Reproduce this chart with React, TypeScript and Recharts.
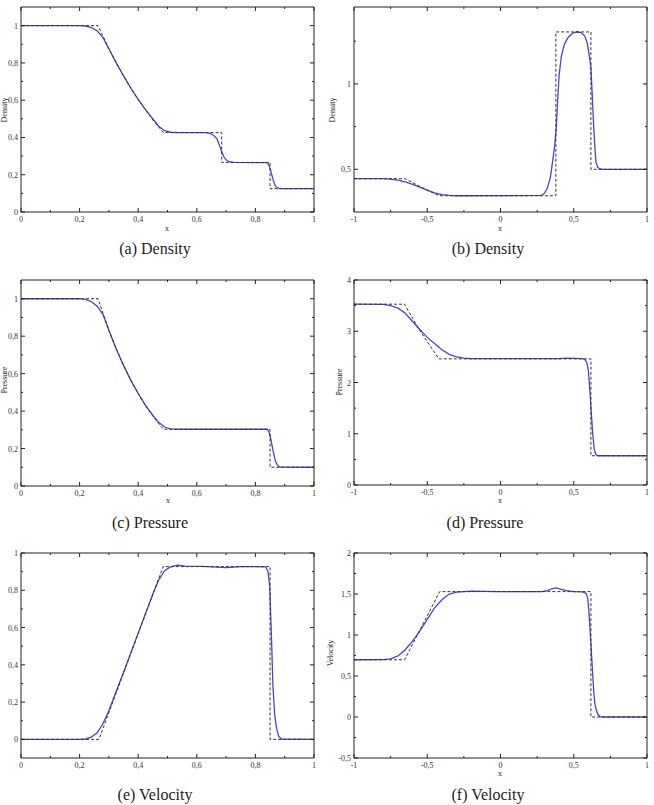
import React from "react";
import { LineChart, Line, XAxis, YAxis } from "recharts";

type Pt = [number, number];

// Sod tube, x in [0, 1]
const SOD_X_MAJOR = [0, 0.2, 0.4, 0.6, 0.8, 1];
const SOD_X_MINOR = [0.1, 0.3, 0.5, 0.7, 0.9];

const SOD_RHO_EXACT: Pt[] = [
  [0, 1], [0.263, 1], [0.28, 0.943], [0.3, 0.878], [0.325, 0.801], [0.35, 0.73], [0.375, 0.664],
  [0.4, 0.603], [0.425, 0.547], [0.45, 0.494], [0.47, 0.456], [0.486, 0.426], [0.685, 0.426],
  [0.685, 0.266], [0.85, 0.266], [0.85, 0.125], [1, 0.125],
];
const SOD_RHO_NUM: Pt[] = [
  [0, 1], [0.2, 1], [0.22, 0.998], [0.24, 0.99], [0.26, 0.972], [0.28, 0.935], [0.3, 0.875],
  [0.325, 0.8], [0.35, 0.73], [0.375, 0.664], [0.4, 0.604], [0.425, 0.549], [0.45, 0.5],
  [0.47, 0.46], [0.49, 0.436], [0.51, 0.428], [0.54, 0.426], [0.63, 0.426], [0.645, 0.422],
  [0.656, 0.413], [0.668, 0.395], [0.677, 0.36], [0.685, 0.323], [0.693, 0.295], [0.7, 0.28],
  [0.71, 0.27], [0.725, 0.266], [0.84, 0.265], [0.845, 0.255], [0.852, 0.225], [0.86, 0.175],
  [0.868, 0.14], [0.877, 0.128], [0.89, 0.125], [1, 0.125],
];

const SOD_P_EXACT: Pt[] = [
  [0, 1], [0.263, 1], [0.28, 0.921], [0.3, 0.833], [0.325, 0.733], [0.35, 0.644], [0.375, 0.564],
  [0.4, 0.493], [0.425, 0.429], [0.45, 0.373], [0.47, 0.333], [0.486, 0.303], [0.85, 0.303],
  [0.85, 0.1], [1, 0.1],
];
const SOD_P_NUM: Pt[] = [
  [0, 1], [0.2, 1], [0.22, 0.997], [0.24, 0.985], [0.26, 0.96], [0.28, 0.915], [0.3, 0.83],
  [0.325, 0.732], [0.35, 0.644], [0.375, 0.564], [0.4, 0.494], [0.425, 0.431], [0.45, 0.377],
  [0.47, 0.34], [0.49, 0.315], [0.51, 0.305], [0.54, 0.303], [0.84, 0.303], [0.846, 0.29],
  [0.852, 0.255], [0.86, 0.19], [0.868, 0.135], [0.876, 0.108], [0.885, 0.101], [1, 0.1],
];

const SOD_U_EXACT: Pt[] = [[0, 0], [0.266, 0], [0.485, 0.927], [0.85, 0.927], [0.85, 0], [1, 0]];
const SOD_U_NUM: Pt[] = [
  [0, 0], [0.2, 0], [0.22, 0.002], [0.24, 0.012], [0.26, 0.035], [0.28, 0.085], [0.3, 0.155],
  [0.35, 0.36], [0.4, 0.57], [0.45, 0.78], [0.47, 0.855], [0.49, 0.905], [0.51, 0.925],
  [0.535, 0.935], [0.56, 0.93], [0.62, 0.928], [0.7, 0.922], [0.75, 0.927], [0.835, 0.926],
  [0.843, 0.9], [0.849, 0.82], [0.855, 0.54], [0.86, 0.28], [0.866, 0.13], [0.872, 0.06],
  [0.88, 0.015], [0.89, 0.002], [1, 0],
];

// Lax tube, x in [-1, 1]
const LAX_X_MAJOR = [-1, -0.5, 0, 0.5, 1];
const LAX_X_MINOR = [-0.75, -0.25, 0.25, 0.75];

const LAX_RHO_EXACT: Pt[] = [
  [-1, 0.445], [-0.65, 0.445], [-0.6, 0.422], [-0.55, 0.399], [-0.5, 0.378], [-0.45, 0.357],
  [-0.42, 0.345], [0.378, 0.345], [0.378, 1.304], [0.617, 1.304], [0.617, 0.5], [1, 0.5],
];
const LAX_RHO_NUM: Pt[] = [
  [-1, 0.445], [-0.8, 0.445], [-0.75, 0.443], [-0.7, 0.437], [-0.65, 0.427], [-0.6, 0.412],
  [-0.55, 0.395], [-0.5, 0.378], [-0.45, 0.362], [-0.4, 0.352], [-0.35, 0.347], [-0.3, 0.345],
  [0.28, 0.347], [0.3, 0.36], [0.32, 0.39], [0.34, 0.45], [0.355, 0.54], [0.37, 0.64],
  [0.38, 0.74], [0.39, 0.9], [0.4, 1.05], [0.415, 1.16], [0.435, 1.23], [0.46, 1.27],
  [0.49, 1.295], [0.52, 1.305], [0.55, 1.3], [0.575, 1.28], [0.592, 1.24], [0.605, 1.17],
  [0.617, 1.1], [0.627, 0.92], [0.636, 0.75], [0.645, 0.62], [0.652, 0.54], [0.665, 0.51],
  [0.68, 0.502], [0.7, 0.5], [1, 0.5],
];

const LAX_P_EXACT: Pt[] = [
  [-1, 3.528], [-0.655, 3.528], [-0.6, 3.251], [-0.54, 2.97], [-0.48, 2.711], [-0.42, 2.461],
  [0.617, 2.461], [0.617, 0.571], [1, 0.571],
];
const LAX_P_NUM: Pt[] = [
  [-1, 3.528], [-0.8, 3.525], [-0.75, 3.5], [-0.7, 3.45], [-0.65, 3.35], [-0.6, 3.19],
  [-0.55, 3.03], [-0.5, 2.88], [-0.45, 2.76], [-0.4, 2.64], [-0.35, 2.55], [-0.3, 2.5],
  [-0.25, 2.475], [-0.2, 2.465], [0.4, 2.465], [0.45, 2.475], [0.5, 2.47], [0.56, 2.465],
  [0.578, 2.44], [0.59, 2.38], [0.6, 2.22], [0.61, 1.85], [0.62, 1.4], [0.63, 0.98],
  [0.64, 0.7], [0.65, 0.6], [0.662, 0.575], [0.68, 0.571], [1, 0.571],
];

const LAX_U_EXACT: Pt[] = [[-1, 0.698], [-0.655, 0.698], [-0.415, 1.529], [0.617, 1.529], [0.617, 0], [1, 0]];
const LAX_U_NUM: Pt[] = [
  [-1, 0.698], [-0.8, 0.7], [-0.75, 0.71], [-0.7, 0.745], [-0.65, 0.82], [-0.6, 0.925],
  [-0.55, 1.05], [-0.5, 1.19], [-0.45, 1.33], [-0.4, 1.43], [-0.35, 1.5], [-0.3, 1.524],
  [-0.2, 1.535], [0, 1.53], [0.28, 1.53], [0.32, 1.54], [0.36, 1.57], [0.38, 1.575],
  [0.41, 1.56], [0.45, 1.54], [0.5, 1.53], [0.56, 1.525], [0.585, 1.505], [0.595, 1.45],
  [0.603, 1.3], [0.612, 1.05], [0.62, 0.8], [0.628, 0.55], [0.636, 0.32], [0.645, 0.15],
  [0.655, 0.08], [0.665, 0.03], [0.68, 0.005], [0.7, 0], [1, 0],
];

const AXIS = "#222";
const BLUE = "#4646cc";
const SERIF = "'Liberation Serif', 'Times New Roman', serif";

const rows = (pts: Pt[]) => pts.map(([x, y]) => ({ x, y }));
const fmt = (v: number) => String(v).replace(".", ",");
const isIn = (arr: number[], v: number) => arr.some((m) => Math.abs(m - v) < 1e-9);

// inward ticks, long for majors, short for minors; labels only on bottom/left majors
const makeTick = (side: "b" | "t" | "l" | "r", major: number[], labels: boolean) => (p: any) => {
  const v = p.payload.value;
  const big = isIn(major, v);
  const len = big ? 4 : 2;
  let x2 = p.x, y2 = p.y;
  if (side === "b") y2 = p.y - len;
  if (side === "t") y2 = p.y + len;
  if (side === "l") x2 = p.x + len;
  if (side === "r") x2 = p.x - len;
  return (
    <g key={`${side}-${v}`}>
      <line x1={p.x} y1={p.y} x2={x2} y2={y2} stroke={AXIS} strokeWidth={1} />
      {labels && big && side === "b" && (
        <text x={p.x} y={p.y + 10} textAnchor="middle" fontSize={8} fill="#333" fontFamily={SERIF}>{fmt(v)}</text>
      )}
      {labels && big && side === "l" && (
        <text x={p.x - 3} y={p.y + 3} textAnchor="end" fontSize={8} fill="#333" fontFamily={SERIF}>{fmt(v)}</text>
      )}
    </g>
  );
};

interface PanelProps {
  left: number; top: number; w: number; h: number;
  xDomain: [number, number]; yDomain: [number, number];
  xMajor: number[]; xMinor: number[]; yMajor: number[]; yMinor: number[];
  num: Pt[]; exact: Pt[];
}

function Panel(props: PanelProps) {
  const { left, top, w, h, xDomain, yDomain, xMajor, xMinor, yMajor, yMinor, num, exact } = props;
  const PL = 30, PR = 6, PT = 6, PB = 16;
  const xTicks = [...xMajor, ...xMinor].sort((a, b) => a - b);
  const yTicks = [...yMajor, ...yMinor].sort((a, b) => a - b);
  return (
    <div style={{ position: "absolute", left: left - PL, top: top - PT }}>
      <LineChart width={w + PL + PR} height={h + PT + PB} margin={{ top: 0, right: 0, bottom: 0, left: 0 }}>
        <XAxis dataKey="x" type="number" domain={xDomain} ticks={xTicks} interval={0} allowDataOverflow
          height={PB} tickSize={0} tickMargin={0} tickLine={false} stroke={AXIS} tick={makeTick("b", xMajor, true)} />
        <XAxis xAxisId="t" orientation="top" dataKey="x" type="number" domain={xDomain} ticks={xTicks} interval={0}
          allowDataOverflow height={PT} tickSize={0} tickMargin={0} tickLine={false} stroke={AXIS} tick={makeTick("t", xMajor, false)} />
        <YAxis type="number" domain={yDomain} ticks={yTicks} interval={0} allowDataOverflow width={PL}
          tickSize={0} tickMargin={0} tickLine={false} stroke={AXIS} tick={makeTick("l", yMajor, true)} />
        <YAxis yAxisId="r" orientation="right" type="number" domain={yDomain} ticks={yTicks} interval={0}
          allowDataOverflow width={PR} tickSize={0} tickMargin={0} tickLine={false} stroke={AXIS} tick={makeTick("r", yMajor, false)} />
        <Line data={rows(num)} dataKey="y" type="linear" dot={false} stroke={BLUE} strokeWidth={1.3} isAnimationActive={false} />
        <Line data={rows(exact)} dataKey="y" type="linear" dot={false} stroke="#333" strokeWidth={1} strokeDasharray="3 2" isAnimationActive={false} />
      </LineChart>
    </div>
  );
}

const Txt = ({ x, y, size, rot, children }: { x: number; y: number; size: number; rot?: boolean; children: React.ReactNode }) => (
  <div style={{
    position: "absolute", left: x, top: y, fontSize: size, fontFamily: SERIF, color: "#222", lineHeight: 1,
    whiteSpace: "nowrap", transform: `translate(-50%, -50%)${rot ? " rotate(-90deg)" : ""}`,
  }}>{children}</div>
);

export default function App() {
  return (
    <div style={{ position: "absolute", left: 0, top: 0, width: 654, height: 805, background: "#fff", overflow: "hidden" }}>
      <Panel left={21} top={7} w={293} h={205} xDomain={[0, 1]} yDomain={[0, 1.1]}
        xMajor={SOD_X_MAJOR} xMinor={SOD_X_MINOR} yMajor={[0, 0.2, 0.4, 0.6, 0.8, 1]} yMinor={[0.1, 0.3, 0.5, 0.7, 0.9]}
        num={SOD_RHO_NUM} exact={SOD_RHO_EXACT} />
      <Panel left={354} top={7} w={293} h={205} xDomain={[-1, 1]} yDomain={[0.25, 1.45]}
        xMajor={LAX_X_MAJOR} xMinor={LAX_X_MINOR} yMajor={[0.5, 1]} yMinor={[0.75, 1.25]}
        num={LAX_RHO_NUM} exact={LAX_RHO_EXACT} />
      <Panel left={21} top={280} w={293} h={206} xDomain={[0, 1]} yDomain={[0, 1.1]}
        xMajor={SOD_X_MAJOR} xMinor={SOD_X_MINOR} yMajor={[0, 0.2, 0.4, 0.6, 0.8, 1]} yMinor={[0.1, 0.3, 0.5, 0.7, 0.9]}
        num={SOD_P_NUM} exact={SOD_P_EXACT} />
      <Panel left={354} top={280} w={293} h={205} xDomain={[-1, 1]} yDomain={[0, 4]}
        xMajor={LAX_X_MAJOR} xMinor={LAX_X_MINOR} yMajor={[0, 1, 2, 3, 4]} yMinor={[0.5, 1.5, 2.5, 3.5]}
        num={LAX_P_NUM} exact={LAX_P_EXACT} />
      <Panel left={21} top={553} w={293} h={205} xDomain={[0, 1]} yDomain={[-0.1, 1]}
        xMajor={SOD_X_MAJOR} xMinor={SOD_X_MINOR} yMajor={[0, 0.2, 0.4, 0.6, 0.8, 1]} yMinor={[0.1, 0.3, 0.5, 0.7, 0.9]}
        num={SOD_U_NUM} exact={SOD_U_EXACT} />
      <Panel left={354} top={553} w={293} h={205} xDomain={[-1, 1]} yDomain={[-0.5, 2]}
        xMajor={LAX_X_MAJOR} xMinor={LAX_X_MINOR} yMajor={[-0.5, 0, 0.5, 1, 1.5, 2]} yMinor={[-0.25, 0.25, 0.75, 1.25, 1.75]}
        num={LAX_U_NUM} exact={LAX_U_EXACT} />

      <Txt x={167} y={229} size={8}>x</Txt>
      <Txt x={500} y={229} size={8}>x</Txt>
      <Txt x={168} y={501} size={8}>x</Txt>
      <Txt x={500} y={501} size={8}>x</Txt>
      <Txt x={500} y={774} size={8}>x</Txt>

      <Txt x={5} y={110} size={8} rot>Density</Txt>
      <Txt x={333} y={110} size={8} rot>Density</Txt>
      <Txt x={5} y={380} size={8} rot>Pressure</Txt>
      <Txt x={340} y={382} size={8} rot>Pressure</Txt>
      <Txt x={331} y={653} size={8} rot>Velocity</Txt>

      <Txt x={155} y={249} size={16}>(a) Density</Txt>
      <Txt x={488} y={249} size={16}>(b) Density</Txt>
      <Txt x={150} y={523} size={16}>(c) Pressure</Txt>
      <Txt x={485} y={523} size={16}>(d) Pressure</Txt>
      <Txt x={155} y={795} size={16}>(e) Velocity</Txt>
      <Txt x={488} y={795} size={16}>(f) Velocity</Txt>
    </div>
  );
}
